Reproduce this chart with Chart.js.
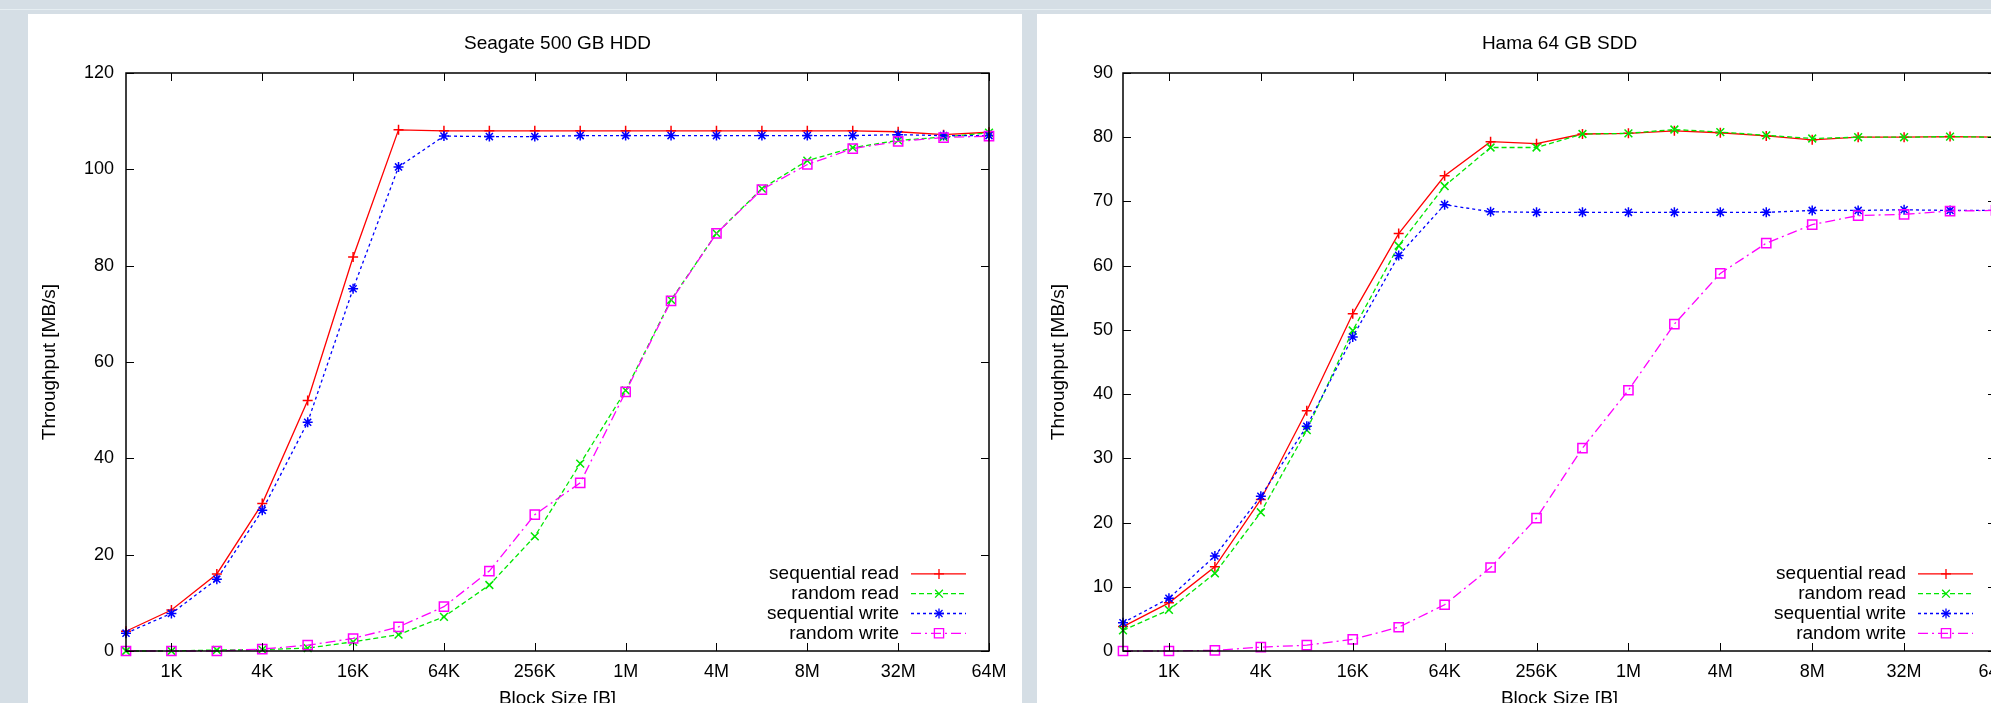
<!DOCTYPE html>
<html>
<head>
<meta charset="utf-8">
<script src="https://cdn.jsdelivr.net/npm/chart.js@4.4.1/dist/chart.umd.min.js"></script>
<style>
  html, body { margin: 0; padding: 0; }
  body { width: 1991px; height: 703px; overflow: hidden; background: #d5dee5; position: relative; }
  .topline { position: absolute; left: 0; top: 9px; width: 100%; height: 1px; background: #e6eef2; }
  .panel { position: absolute; top: 14px; width: 994px; height: 720px; background: #fff; }
  #p1 { left: 28px; }
  #p2 { left: 1037px; }
  canvas { display: block; }
</style>
</head>
<body>
<div class="topline"></div>
<div class="panel" id="p1"><canvas id="hdd" width="994" height="720"></canvas></div>
<div class="panel" id="p2"><canvas id="ssd" width="994" height="720"></canvas></div>
<script>
// x positions: one per measured block size, only every second one is labelled
const xTickLabels = ['', '1K', '', '4K', '', '16K', '', '64K', '', '256K',
                     '', '1M', '', '4M', '', '8M', '', '32M', '', '64M'];
const seriesNames = ['sequential read', 'random read', 'sequential write', 'random write'];

// Seagate 500 GB HDD, MB/s
const hddSeqRead   = [4.1, 8.5, 16.0, 30.6, 52.0, 81.8, 108.2, 108.0, 108.0, 108.0, 108.0, 108.0, 108.0, 108.0, 108.0, 108.0, 108.0, 107.8, 107.2, 107.7];
const hddRandRead  = [0, 0, 0.2, 0.3, 0.6, 1.9, 3.4, 7.1, 13.7, 23.8, 38.9, 54.1, 72.9, 86.7, 96.0, 101.8, 104.5, 106.0, 106.7, 107.6];
const hddSeqWrite  = [3.7, 7.8, 14.9, 29.2, 47.5, 75.2, 100.5, 106.9, 106.8, 106.8, 107.0, 107.0, 107.0, 107.0, 107.0, 107.0, 107.0, 107.2, 107.0, 107.0];
const hddRandWrite = [0, 0, 0, 0.4, 1.2, 2.6, 5.0, 9.2, 16.6, 28.3, 34.9, 53.8, 72.7, 86.7, 95.8, 101.0, 104.3, 105.8, 106.6, 106.9];

// Hama 64 GB SDD, MB/s
const ssdSeqRead   = [3.8, 7.5, 13.1, 23.6, 37.4, 52.5, 65.0, 74.0, 79.3, 79.0, 80.5, 80.6, 81.0, 80.7, 80.2, 79.6, 80.0, 80.0, 80.1, 80.0];
const ssdRandRead  = [3.2, 6.4, 12.1, 21.6, 34.4, 49.9, 63.1, 72.4, 78.4, 78.4, 80.5, 80.6, 81.2, 80.8, 80.3, 79.8, 80.0, 80.0, 80.1, 80.0];
const ssdSeqWrite  = [4.4, 8.2, 14.8, 24.1, 35.0, 48.9, 61.6, 69.5, 68.4, 68.3, 68.3, 68.3, 68.3, 68.3, 68.3, 68.6, 68.6, 68.7, 68.6, 68.6];
const ssdRandWrite = [0, 0, 0.1, 0.6, 0.9, 1.8, 3.7, 7.2, 13.0, 20.7, 31.6, 40.6, 50.9, 58.8, 63.5, 66.4, 67.8, 68.0, 68.5, 68.6];

const colors = ['#ff0000', '#00e600', '#0000ff', '#ff00ff'];
const dashes = [[], [5, 3], [3, 3], [10, 4, 2, 4]];
const markers = ['cross', 'crossRot', 'star', 'rect'];
const markerSize = [5, 5.5, 5, 6.5];

const FONT = '"Liberation Sans", Arial, sans-serif';
Chart.defaults.color = '#000';
Chart.defaults.font.family = FONT;

// gnuplot look: frame, inward ticks on all sides, title, key in the lower right
const gnuplotDecor = {
  id: 'gnuplotDecor',
  afterDatasetsDraw(chart, args, opts) {
    const { ctx, chartArea: a } = chart;
    const xs = chart.scales.x, ys = chart.scales.y;
    ctx.save();
    ctx.strokeStyle = '#000';
    ctx.lineWidth = 1;
    ctx.beginPath();
    xs.ticks.forEach(t => {
      const px = Math.round(xs.getPixelForValue(t.value)) + 0.5;
      ctx.moveTo(px, a.bottom); ctx.lineTo(px, a.bottom - 8);
      ctx.moveTo(px, a.top); ctx.lineTo(px, a.top + 8);
    });
    ys.ticks.forEach(t => {
      const py = Math.round(ys.getPixelForValue(t.value)) + 0.5;
      ctx.moveTo(a.left, py); ctx.lineTo(a.left + 8, py);
      ctx.moveTo(a.right, py); ctx.lineTo(a.right - 8, py);
    });
    ctx.stroke();
    ctx.lineWidth = 1.5;
    ctx.strokeRect(a.left, a.top, a.right - a.left, a.bottom - a.top);

    ctx.fillStyle = '#000';
    ctx.font = '19px ' + FONT;
    ctx.textAlign = 'center';
    ctx.textBaseline = 'middle';
    ctx.fillText(opts.title, (a.left + a.right) / 2, a.top - 29);

    ctx.textAlign = 'right';
    const n = chart.data.datasets.length;
    chart.data.datasets.forEach((ds, i) => {
      const yy = a.bottom - 17.7 - 19.8 * (n - 1 - i);
      ctx.fillStyle = '#000';
      ctx.fillText(ds.label, a.right - 90, yy);
      ctx.strokeStyle = ds.borderColor;
      ctx.lineWidth = ds.borderWidth;
      ctx.setLineDash(ds.borderDash);
      ctx.beginPath();
      ctx.moveTo(a.right - 78, yy);
      ctx.lineTo(a.right - 23, yy);
      ctx.stroke();
      ctx.setLineDash([]);
      ctx.fillStyle = 'rgba(0,0,0,0)';
      Chart.helpers.drawPoint(ctx, {
        pointStyle: ds.pointStyle, radius: ds.pointRadius, rotation: 0, borderWidth: ds.pointBorderWidth
      }, a.right - 50, yy);
    });
    ctx.restore();
  }
};

function makeChart(id, title, series, yMax, yStep, yWidth, rightPad, labelPad) {
  return new Chart(id, {
    type: 'line',
    data: {
      labels: xTickLabels,
      datasets: series.map((values, i) => ({
        label: seriesNames[i],
        data: values,
        borderColor: colors[i],
        backgroundColor: colors[i],
        borderWidth: 1.3,
        borderDash: dashes[i],
        pointStyle: markers[i],
        pointRadius: markerSize[i],
        pointBorderWidth: 1.5,
        pointBorderColor: colors[i],
        pointBackgroundColor: 'rgba(0,0,0,0)',
        tension: 0,
        clip: false,
        order: series.length - i
      }))
    },
    options: {
      responsive: false,
      animation: false,
      events: [],
      layout: { padding: { top: 59, right: rightPad, left: 0, bottom: 0 } },
      plugins: {
        legend: { display: false },
        tooltip: { enabled: false },
        gnuplotDecor: { title: title }
      },
      scales: {
        x: {
          type: 'category',
          grid: { display: false, drawTicks: false },
          border: { display: false },
          afterBuildTicks: scale => {
            scale.ticks = scale.ticks.filter(t => xTickLabels[t.value] !== '');
          },
          afterFit: scale => { scale.height = 83; },
          ticks: { autoSkip: false, maxRotation: 0, padding: 10, font: { size: 18 } },
          title: { display: true, text: 'Block Size [B]', font: { size: 19 }, padding: { top: 0, bottom: 24 } }
        },
        y: {
          min: 0,
          max: yMax,
          grid: { display: false, drawTicks: false },
          border: { display: false },
          afterFit: scale => { scale.width = yWidth; },
          ticks: { stepSize: yStep, padding: labelPad, font: { size: 18 } },
          title: { display: true, text: 'Throughput [MB/s]', font: { size: 19 }, padding: { top: 10, bottom: 0 } }
        }
      }
    },
    plugins: [gnuplotDecor]
  });
}

makeChart('hdd', 'Seagate 500 GB HDD',
  [hddSeqRead, hddRandRead, hddSeqWrite, hddRandWrite], 120, 20, 98, 33, 12);
makeChart('ssd', 'Hama 64 GB SDD',
  [ssdSeqRead, ssdRandRead, ssdSeqWrite, ssdRandWrite], 90, 10, 86, 35, 10);
</script>
</body>
</html>
